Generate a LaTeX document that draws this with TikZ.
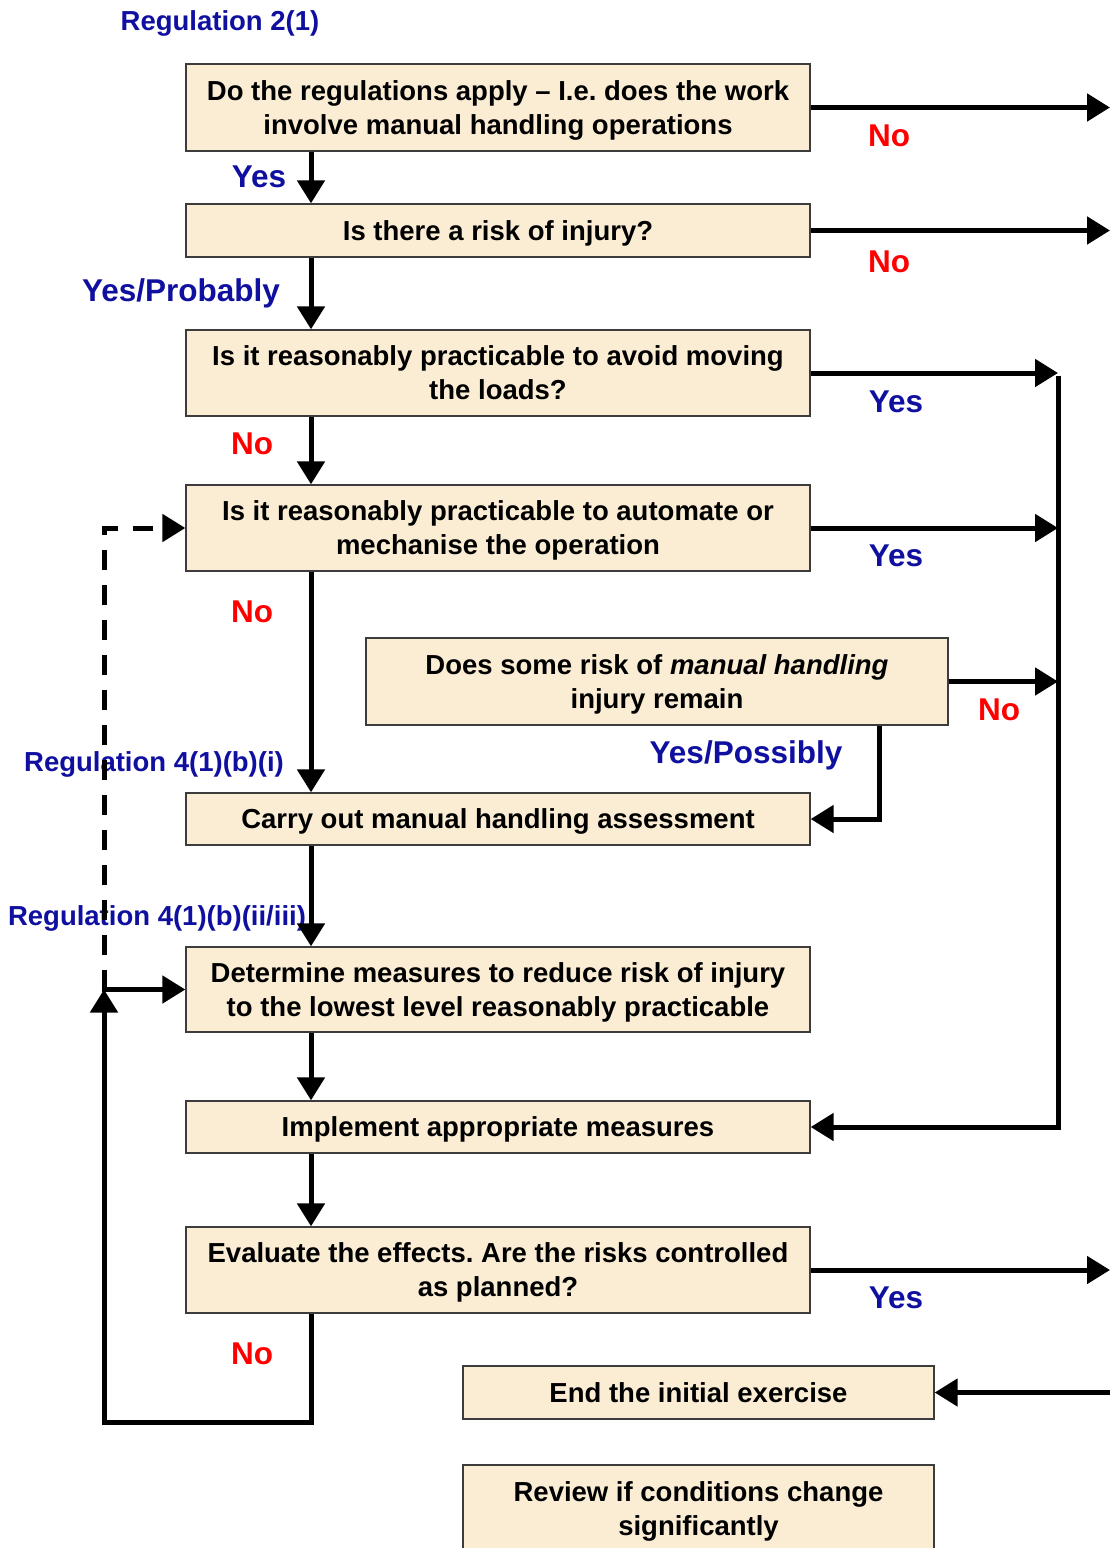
\documentclass[tikz,border=0pt]{standalone}
\usepackage{fontspec}
\setmainfont{Liberation Sans}
\usetikzlibrary{arrows.meta}
\definecolor{boxfill}{RGB}{250,237,212}
\definecolor{boxline}{RGB}{60,60,60}
\definecolor{lblue}{RGB}{16,16,160}
\definecolor{lred}{RGB}{255,0,0}
\frenchspacing
\begin{document}
\begin{tikzpicture}[x=1pt,y=-1pt,
  box/.style={draw=boxline,line width=1.3pt,fill=boxfill,inner sep=0pt,align=center,text depth=0pt,
    font=\fontsize{27.5}{34}\selectfont\bfseries},
  conn/.style={line width=5pt},
  arr/.style={line width=5pt,-{Triangle[length=23pt,width=27pt]}},
  yes/.style={text=lblue,font=\fontsize{31.5}{36}\selectfont\bfseries,inner sep=0pt,text depth=0pt},
  no/.style={text=lred,font=\fontsize{31.5}{36}\selectfont\bfseries,inner sep=0pt,text depth=0pt},
  reg/.style={text=lblue,font=\fontsize{27.5}{32}\selectfont\bfseries,inner sep=0pt,text depth=0pt}]
\useasboundingbox (0,0) rectangle (1110,1548);
\fill[white] (0,0) rectangle (1110,1548);

% boxes
\node[box,minimum width=624pt,minimum height=87pt] (b1) at (498,107.5)
  {Do the regulations apply -- I.e. does the work\\involve manual handling operations};
\node[box,minimum width=624pt,minimum height=53pt] (b2) at (498,230.5)
  {Is there a risk of injury?};
\node[box,minimum width=624pt,minimum height=86pt] (b3) at (498,373)
  {Is it reasonably practicable to avoid moving\\the loads?};
\node[box,minimum width=624pt,minimum height=86pt] (b4) at (498,528)
  {Is it reasonably practicable to automate or\\mechanise the operation};
\node[box,minimum width=582pt,minimum height=87pt] (b5) at (657,681.5)
  {Does some risk of \textit{manual handling}\\injury remain};
\node[box,minimum width=624pt,minimum height=52pt] (b6) at (498,819)
  {Carry out manual handling assessment};
\node[box,minimum width=624pt,minimum height=85pt] (b7) at (498,989.5)
  {Determine measures to reduce risk of injury\\to the lowest level reasonably practicable};
\node[box,minimum width=624pt,minimum height=52pt] (b8) at (498,1127)
  {Implement appropriate measures};
\node[box,minimum width=624pt,minimum height=86pt] (b9) at (498,1270)
  {Evaluate the effects. Are the risks controlled\\as planned?};
\node[box,minimum width=471pt,minimum height=53pt] (b10) at (698.5,1392.5)
  {End the initial exercise};
\node[box,minimum width=471pt,minimum height=88pt] (b11) at (698.5,1509)
  {Review if conditions change\\significantly};

% labels
\node[reg] (l0) at (220,21) {Regulation 2(1)};
\node[yes] (l1) at (259,177) {Yes};
\node[no] (l2) at (889,136) {No};
\node[no] (l3) at (889,262) {No};
\node[yes] (l4) at (181,290) {Yes/Probably};
\node[yes] (l5) at (896,402) {Yes};
\node[no] (l6) at (252,444) {No};
\node[yes] (l7) at (896,556) {Yes};
\node[no] (l8) at (252,612) {No};
\node[no] (l9) at (999,710) {No};
\node[yes] (l10) at (746,752) {Yes/Possibly};
\node[reg] (l11) at (154,762) {Regulation 4(1)(b)(i)};
\node[reg] (l12) at (157,916) {Regulation 4(1)(b)(ii/iii)};
\node[yes] (l13) at (896,1298) {Yes};
\node[no] (l14) at (252,1354) {No};

% helper coordinates
\coordinate (mx) at (311,0);
\coordinate (rx) at (1110,0);
\coordinate (vx) at (1058,0);
\coordinate (px) at (879,0);
\coordinate (lx) at (104,0);
\coordinate (lb) at (104,1422);
\coordinate (mb) at (311,1422);
\coordinate (jn) at (104,989.5);

% main flow
\draw[arr] (b1.south -| mx) -- (b2.north -| mx);
\draw[arr] (b2.south -| mx) -- (b3.north -| mx);
\draw[arr] (b3.south -| mx) -- (b4.north -| mx);
\draw[arr] (b4.south -| mx) -- (b6.north -| mx);
\draw[arr] (b6.south -| mx) -- (b7.north -| mx);
\draw[arr] (b7.south -| mx) -- (b8.north -| mx);
\draw[arr] (b8.south -| mx) -- (b9.north -| mx);

% exits to right
\draw[arr] (b1.east) -- (b1.east -| rx);
\draw[arr] (b2.east) -- (b2.east -| rx);
\draw[arr] (b9.east) -- (b9.east -| rx);
\draw[arr] (b10.east -| rx) -- (b10.east);

% yes branch to implement
\draw[arr] (b3.east) -- (b3.east -| vx);
\draw[arr] (b4.east) -- (b4.east -| vx);
\draw[arr] (b5.east) -- (b5.east -| vx);
\draw[conn] ([yshift=-2.5pt]b3.east -| vx) -- (b8.east -| vx);
\draw[arr] ([xshift=2.5pt]b8.east -| vx) -- (b8.east);

% yes/possibly
\draw[arr] (b5.south -| px) |- (b6.east);

% no loop
\draw[arr,line join=miter] (b9.south -| mx) -- (mb) -- (lb) -- (jn);
\draw[arr] ([xshift=-2.5pt]jn) -- (b7.west);
\draw[arr,dashed,dash pattern=on 20pt off 15pt] (jn) -- (b4.west -| lx) -- (b4.west);
\end{tikzpicture}
\end{document}
